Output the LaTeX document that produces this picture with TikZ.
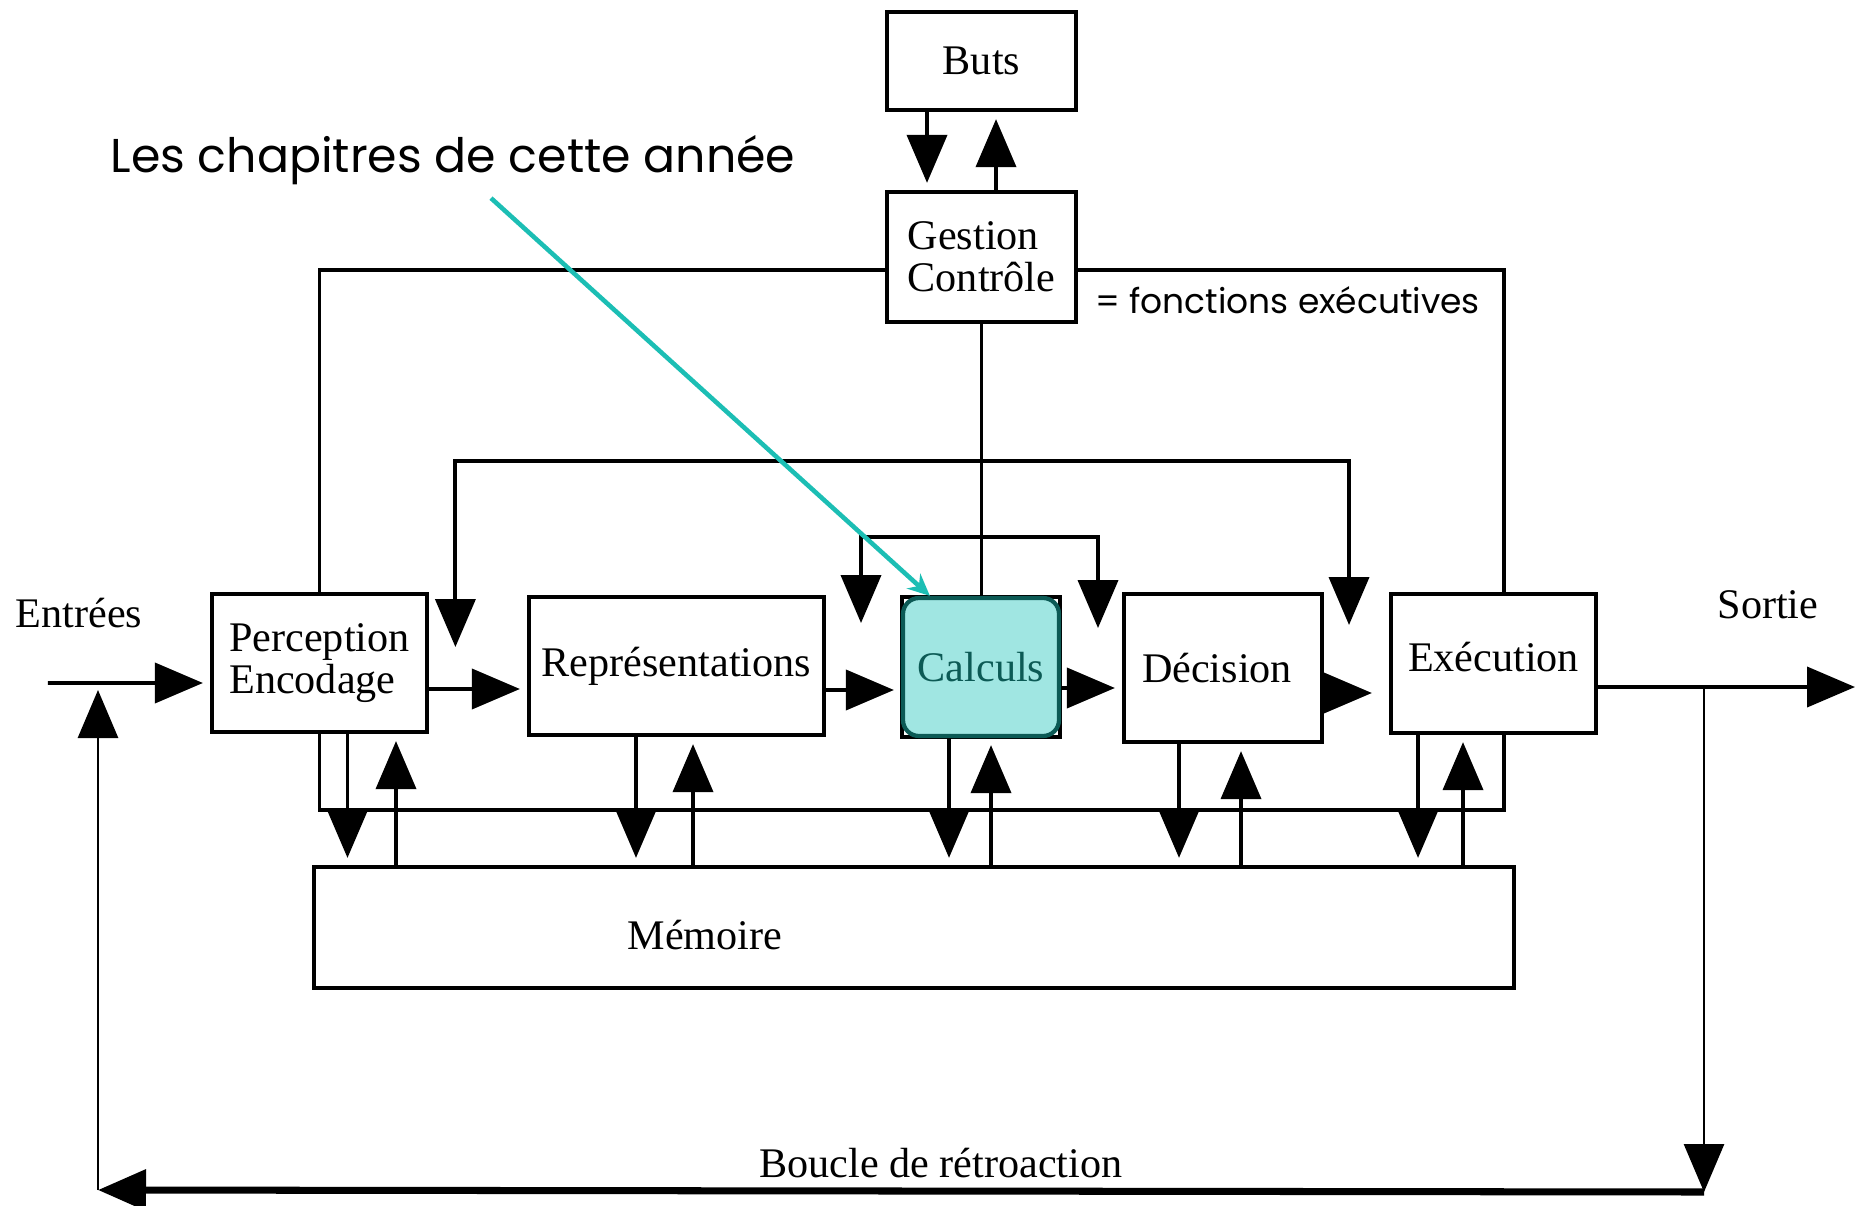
\documentclass[tikz,border=0pt]{standalone}
\usepackage{fontspec}
\setmainfont{Liberation Serif}
\newfontfamily\gothic{Poppins}
\usetikzlibrary{arrows.meta, positioning}
\definecolor{calcfill}{RGB}{160,230,226}
\definecolor{calcdark}{RGB}{12,90,85}
\definecolor{pointer}{RGB}{28,190,180}
\tikzset{
  box/.style={draw, line width=1.2pt, inner sep=0pt, align=left, font=\fontsize{12}{12}\selectfont},
  link/.style={line width=1.1pt},
  arr/.style={line width=1.1pt, -{Triangle[length=4.8mm, width=4mm]}, shorten >=0.7mm},
  dblarr/.style={line width=1.1pt, {Triangle[length=4.8mm, width=4mm]}-{Triangle[length=4.8mm, width=4mm]}},
  lbl/.style={font=\fontsize{12}{12}\selectfont},
}
\begin{document}
\begin{tikzpicture}[x=0.1mm, y=-0.1mm]
  \useasboundingbox (0,0) rectangle (1855,1206);

  % Boxes
  \node[box, minimum width=18.9mm, minimum height=9.8mm] (buts) at (981.5,61) {Buts};
  \node[box, minimum width=18.9mm, minimum height=13mm] (gest) at (981.5,257) {Gestion\\Contrôle};
  \node[box, minimum width=21.5mm, minimum height=13.8mm] (perc) at (319.5,663) {Perception\\Encodage};
  \node[box, minimum width=29.5mm, minimum height=13.8mm] (repr) at (676.5,666) {Représentations};
  \draw[link] (902,597) rectangle (1060,737);
  \node[box, draw=calcdark, fill=calcfill, text=calcdark, rounded corners=1.6mm,
        minimum width=15.6mm, minimum height=13.8mm] (calc) at (981,667) {Calculs};
  \node[box, minimum width=19.8mm, minimum height=14.8mm] (deci) at (1223,668) {Décision\hspace{1.2mm}};
  \node[box, minimum width=20.5mm, minimum height=13.9mm] (exec) at (1493.5,663.5) {\raisebox{1.4mm}{Exécution}};
  \node[box, minimum width=120mm, minimum height=12.1mm] (mem) at (913.9,927.5) {};
  \node[lbl] (memtxt) at (705,935) {Mémoire};

  % Labels
  \node[lbl] (entrees) at (79,613) {Entrées};
  \node[lbl] (sortie) at (1768,605) {Sortie};
  \node[lbl] (boucle) at (941,1163) {Boucle de rétroaction};
  \node[font=\gothic\fontsize{13.5}{15}\selectfont] (chap) at (453,160) {Les chapitres de cette année};
  \node[font=\gothic\fontsize{9.8}{11}\selectfont, anchor=west] (exefn) at (1083,300) {= fonctions exécutives};

  % Goals and control
  \draw[arr] ([xshift=-5.45mm]buts.south) -- ([xshift=-5.45mm]gest.north);
  \draw[arr] ([xshift=1.45mm]gest.north) -- ([xshift=1.45mm]buts.south);

  % Executive loop
  \coordinate (loopbot) at (0,810);
  \draw[link] ([yshift=-1.3mm]gest.west) -| (perc.north);
  \draw[link] ([yshift=-1.3mm]gest.east) -| ([xshift=1.05mm]exec.north);
  \draw[link] (perc.south) -- (perc.south |- loopbot) -| ([xshift=1.05mm]exec.south);
  \draw[link] (gest.south) -- (gest.south |- calc.north);

  % Control loops
  \coordinate (tl) at (455.4,647);
  \coordinate (tr) at (1349,625);
  \coordinate (tlc) at (455.4,461);
  \coordinate (trc) at (1349,461);
  \draw[dblarr] (tl) -- (tlc) -- (trc) -- (tr);
  \coordinate (il) at (861,623);
  \coordinate (ir) at (1098,628);
  \coordinate (ilc) at (861,537);
  \coordinate (irc) at (1098,537);
  \draw[dblarr] (il) -- (ilc) -- (irc) -- (ir);

  % Main chain
  \coordinate (inp) at (47.8,683);
  \coordinate (out) at (1855,687);
  \draw[arr] (inp) -- ([yshift=-2.0mm]perc.west);
  \draw[arr] ([yshift=-2.6mm]perc.east) -- ([yshift=-2.3mm]repr.west);
  \draw[arr] ([yshift=-2.4mm]repr.east) -- ([yshift=-2.3mm]calc.west);
  \draw[arr] ([yshift=-2.1mm]calc.east) -- ([yshift=-2.0mm]deci.west);
  \draw[arr, shorten >=1.7mm] ([yshift=-2.5mm]deci.east) -- ([yshift=-2.95mm]exec.west);
  \draw[arr, shorten >=0pt] ([yshift=-2.35mm]exec.east) -- (out);

  % Links with memory
  \foreach \b/\dn/\up in {perc/347.5/396, repr/636/693, calc/949/991, deci/1179/1241, exec/1418/1463} {
    \coordinate (d) at (\dn,0);
    \coordinate (u) at (\up,0);
    \draw[arr] (\b.south -| d) -- (mem.north -| d);
    \draw[arr] (mem.north -| u) -- (\b.south -| u);
  }

  % Feedback loop
  \coordinate (fbtop) at (1704,687);
  \coordinate (fbbot) at (1704,1192);
  \coordinate (fbleft) at (98,1190);
  \coordinate (fbin) at (98,683);
  \draw[arr, line width=0.8pt, shorten >=0pt] (fbtop) -- (fbbot);
  \draw[arr, line width=2pt, shorten >=0pt] (fbbot) -- (fbleft);
  \draw[arr, line width=0.8pt] (fbleft) -- (fbin);

  % Pointer to the chapters
  \draw[pointer, line width=1.3pt, -{Stealth[length=2.2mm, width=2mm]}]
    ([xshift=3.8mm, yshift=-0.1mm]chap.south) -- ([xshift=2.9mm]calc.north west);
\end{tikzpicture}
\end{document}
